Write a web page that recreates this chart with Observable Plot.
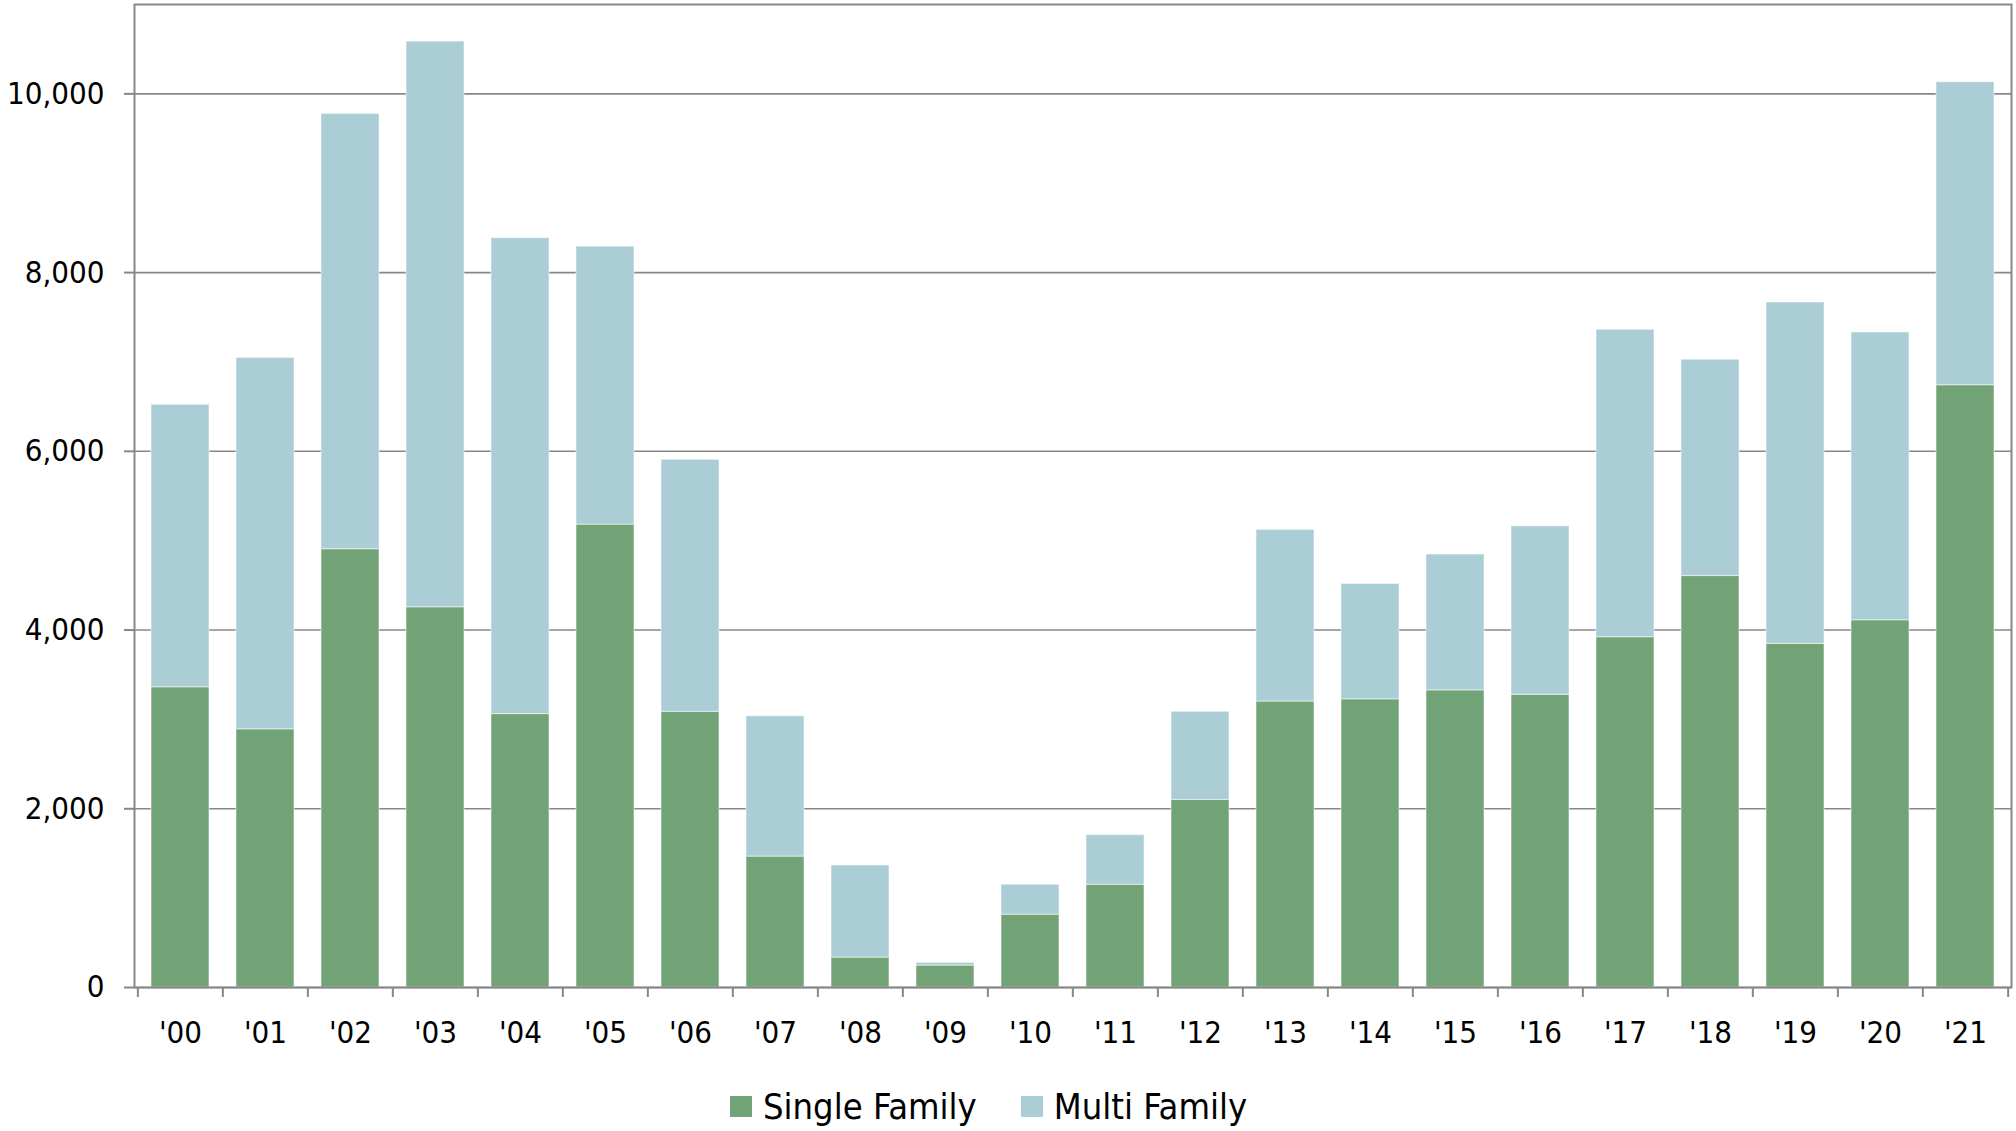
<!DOCTYPE html>
<html>
<head>
<meta charset="utf-8">
<script src="https://cdn.jsdelivr.net/npm/d3@7"></script>
<script src="https://cdn.jsdelivr.net/npm/@observablehq/plot@0.6"></script>
<style>
  html, body { margin: 0; padding: 0; background: #fff; }
  #wrap { position: relative; width: 2016px; height: 1131px; font-family: 'DejaVu Sans Condensed', 'DejaVu Sans', sans-serif; font-stretch: condensed; }
  #legend { position: absolute; left: 730px; top: 1086px; height: 40px; display: flex; align-items: center; font-size: 36px; color: #000; white-space: nowrap; }
  .item { display: flex; align-items: center; margin-right: 44px; }
  .sw { width: 22px; height: 21px; margin-right: 11px; }
</style>
</head>
<body>
<div id="wrap">
  <div id="chart"></div>
  <div id="legend"></div>
</div>
<script>
const years = ["'00","'01","'02","'03","'04","'05","'06","'07","'08","'09","'10","'11","'12","'13","'14","'15","'16","'17","'18","'19","'20","'21"];
const singleFamily = [3360, 2890, 4905, 4255, 3060, 5180, 3085, 1465, 335, 245, 815, 1150, 2100, 3200, 3225, 3325, 3275, 3920, 4605, 3845, 4110, 6740];
const multiFamily  = [3160, 4155, 4870, 6330, 5325, 3110, 2820, 1570, 1030, 30, 335, 555, 985, 1920, 1290, 1520, 1885, 3440, 2420, 3820, 3220, 3390];
const seriesNames = ["Single Family", "Multi Family"];
const seriesColors = ["#72a376", "#aacdd6"];
const yTicks = [0, 2000, 4000, 6000, 8000, 10000];

const data = [];
years.forEach((y, i) => {
  data.push({year: y, type: seriesNames[0], value: singleFamily[i]});
  data.push({year: y, type: seriesNames[1], value: multiFamily[i]});
});

const W = 2016, H = 1060;
const mL = 134, mR = 5, mT = 4, mB = 73;
const step = (W - mL - mR) / years.length;
const axisColor = "#878787";

const chart = Plot.plot({
  width: W, height: H,
  marginLeft: mL, marginRight: mR, marginTop: mT, marginBottom: mB,
  style: {fontFamily: "'DejaVu Sans Condensed', 'DejaVu Sans', sans-serif", fontSize: "31px", color: "#000", background: "#fff"},
  x: {domain: years, paddingInner: 0.32, paddingOuter: 0.16, label: null},
  y: {domain: [0, 11000], label: null},
  color: {domain: seriesNames, range: seriesColors},
  marks: [
    Plot.gridY(yTicks, {stroke: axisColor, strokeOpacity: 1, strokeWidth: 1.6}),
    Plot.barY(data, {x: "year", y: "value", fill: "type", stroke: "#ffffff", strokeOpacity: 0.45, strokeWidth: 1.2}),
    Plot.frame({stroke: axisColor, strokeWidth: 2}),
    Plot.axisY(yTicks, {tickSize: 10, tickPadding: 20, tickFormat: d3.format(","), stroke: axisColor, strokeWidth: 2, fontSize: 31}),
    Plot.axisX({tickSize: 0, tickPadding: 33, fontSize: 31}),
    Plot.axisX({tickSize: 10, fill: "none", dx: -step / 2, stroke: axisColor, strokeWidth: 2}),
    Plot.axisX([years[years.length - 1]], {tickSize: 10, fill: "none", dx: step / 2, stroke: axisColor, strokeWidth: 2})
  ]
});
document.getElementById("chart").appendChild(chart);

const legend = document.getElementById("legend");
seriesNames.forEach((name, i) => {
  const item = document.createElement("div");
  item.className = "item";
  const sw = document.createElement("div");
  sw.className = "sw";
  sw.style.background = seriesColors[i];
  const label = document.createElement("span");
  label.textContent = name;
  item.appendChild(sw);
  item.appendChild(label);
  legend.appendChild(item);
});
</script>
</body>
</html>
